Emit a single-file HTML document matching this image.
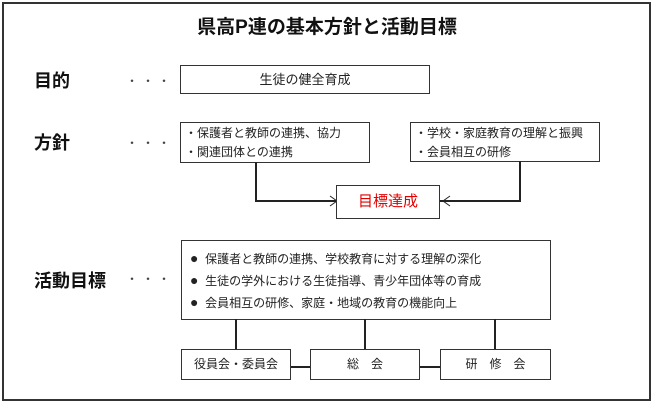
<!DOCTYPE html>
<html><head><meta charset="utf-8"><style>
*{margin:0;padding:0;box-sizing:border-box}
body{width:654px;height:404px;background:#fff;position:relative;overflow:hidden;font-family:"Liberation Sans","Noto Sans CJK JP",sans-serif;color:#222}
.a{position:absolute}
.b{position:absolute;border:1px solid #333;background:#fff}
.l{position:absolute;background:#222}
.lab{position:absolute;font-weight:bold;font-size:18px;color:#111;line-height:20px}
.dots{position:absolute;font-size:12px;letter-spacing:4px;color:#444;line-height:14px}
.t{font-size:12px;line-height:19px}
</style></head><body>
<div class="a" style="left:2px;top:2px;width:649px;height:399px;border:2px solid #333"></div>
<div class="a" style="left:0;width:654px;top:12px;text-align:center;font-size:19px;font-weight:bold;color:#111">県高P連の基本方針と活動目標</div>

<div class="lab" style="left:34px;top:71px">目的</div>
<div class="dots" style="left:126px;top:74px">・・・</div>
<div class="b" style="left:180px;top:65px;width:250px;height:29px;text-align:center;font-size:13px;line-height:27px">生徒の健全育成</div>

<div class="lab" style="left:34px;top:133px">方針</div>
<div class="dots" style="left:126px;top:136px">・・・</div>
<div class="b t" style="left:180px;top:122px;width:190px;height:41px;padding:1px 0 0 4px">・保護者と教師の連携、協力<br>・関連団体との連携</div>
<div class="b t" style="left:410px;top:122px;width:190px;height:40px;padding:1px 0 0 4px">・学校・家庭教育の理解と振興<br>・会員相互の研修</div>
<div class="l" style="left:255px;top:162px;width:2px;height:40px"></div>
<div class="l" style="left:255px;top:200px;width:81px;height:2px"></div>
<div class="l" style="left:519px;top:161px;width:2px;height:41px"></div>
<div class="l" style="left:439px;top:200px;width:82px;height:2px"></div>
<svg class="a" style="left:325px;top:193px" width="130" height="16"><path d="M5 3 L12 8 L5 13" fill="none" stroke="#222" stroke-width="1"/><path d="M125 3 L118 8 L125 13" fill="none" stroke="#222" stroke-width="1"/></svg>
<div class="b" style="left:336px;top:185px;width:104px;height:34px;text-align:center;font-size:15px;line-height:32px;color:#e00000">目標達成</div>

<div class="lab" style="left:34px;top:271px">活動目標</div>
<div class="dots" style="left:126px;top:272px">・・・</div>
<div class="b" style="left:181px;top:240px;width:370px;height:80px;padding:7px 0 0 8px;font-size:12px;line-height:21px"><span style="font-size:14px">●</span>&nbsp; 保護者と教師の連携、学校教育に対する理解の深化<br><span style="font-size:14px">●</span>&nbsp; 生徒の学外における生徒指導、青少年団体等の育成<br><span style="font-size:14px">●</span>&nbsp; 会員相互の研修、家庭・地域の教育の機能向上</div>
<div class="l" style="left:235px;top:319px;width:2px;height:31px"></div>
<div class="l" style="left:364px;top:319px;width:2px;height:31px"></div>
<div class="l" style="left:494px;top:319px;width:2px;height:31px"></div>
<div class="l" style="left:290px;top:366px;width:21px;height:2px"></div>
<div class="l" style="left:420px;top:366px;width:21px;height:2px"></div>
<div class="b" style="left:181px;top:349px;width:110px;height:31px;text-align:center;font-size:12px;line-height:29px">役員会・委員会</div>
<div class="b" style="left:310px;top:349px;width:110px;height:31px;text-align:center;font-size:12px;line-height:29px">総　会</div>
<div class="b" style="left:440px;top:349px;width:111px;height:31px;text-align:center;font-size:12px;line-height:29px">研　修　会</div>
</body></html>
